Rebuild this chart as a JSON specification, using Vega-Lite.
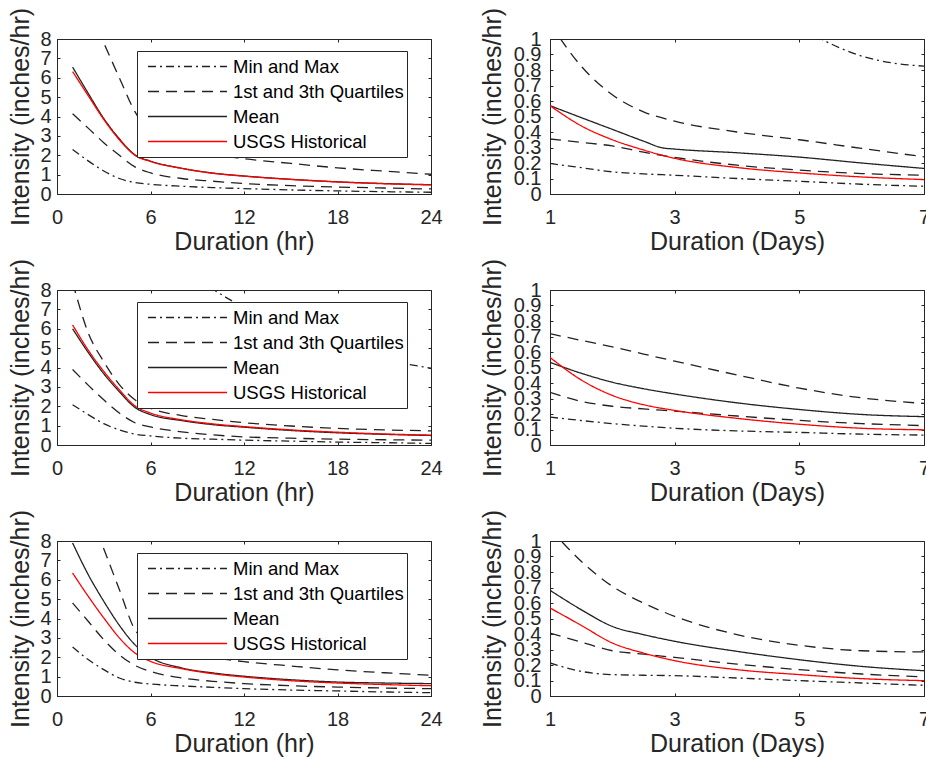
{
"$schema":"https://vega.github.io/schema/vega-lite/v6.json",
"padding":{"left":8,"top":6,"right":0,"bottom":5},
"config":{"font":"Liberation Sans","view":{"stroke":"#262626","strokeWidth":1},
"axis":{"domainColor":"#262626","tickColor":"#262626","labelColor":"#262626","titleColor":"#262626","labelFontSize":20,"titleFontSize":25,"titleFontWeight":"normal","tickSize":-3,"grid":false,"labelOverlap":false,"labelBound":false,"labelFlush":false,"labelFont":"Liberation Sans","titleFont":"Liberation Sans"},
"axisBottom":{"labelPadding":16,"titlePadding":2},
"axisLeft":{"labelPadding":9,"titlePadding":6}},
"data":{"values":[
{"p":"TL","s":"Min","g":"Min and Max","x":1,"y":2.3},{"p":"TL","s":"Min","g":"Min and Max","x":2,"y":1.71},{"p":"TL","s":"Min","g":"Min and Max","x":3,"y":1.19},{"p":"TL","s":"Min","g":"Min and Max","x":4,"y":0.8},{"p":"TL","s":"Min","g":"Min and Max","x":5,"y":0.59},{"p":"TL","s":"Min","g":"Min and Max","x":6,"y":0.5},{"p":"TL","s":"Min","g":"Min and Max","x":8,"y":0.4},{"p":"TL","s":"Min","g":"Min and Max","x":10,"y":0.33},{"p":"TL","s":"Min","g":"Min and Max","x":12,"y":0.28},{"p":"TL","s":"Min","g":"Min and Max","x":15,"y":0.21},{"p":"TL","s":"Min","g":"Min and Max","x":18,"y":0.16},{"p":"TL","s":"Min","g":"Min and Max","x":21,"y":0.12},{"p":"TL","s":"Min","g":"Min and Max","x":24,"y":0.09},
{"p":"TL","s":"Q1","g":"1st and 3th Quartiles","x":1,"y":4.14},{"p":"TL","s":"Q1","g":"1st and 3th Quartiles","x":2,"y":3.4},{"p":"TL","s":"Q1","g":"1st and 3th Quartiles","x":3,"y":2.65},{"p":"TL","s":"Q1","g":"1st and 3th Quartiles","x":4,"y":2.0},{"p":"TL","s":"Q1","g":"1st and 3th Quartiles","x":5,"y":1.4},{"p":"TL","s":"Q1","g":"1st and 3th Quartiles","x":6,"y":1.09},{"p":"TL","s":"Q1","g":"1st and 3th Quartiles","x":8,"y":0.8},{"p":"TL","s":"Q1","g":"1st and 3th Quartiles","x":10,"y":0.66},{"p":"TL","s":"Q1","g":"1st and 3th Quartiles","x":12,"y":0.54},{"p":"TL","s":"Q1","g":"1st and 3th Quartiles","x":15,"y":0.43},{"p":"TL","s":"Q1","g":"1st and 3th Quartiles","x":18,"y":0.36},{"p":"TL","s":"Q1","g":"1st and 3th Quartiles","x":21,"y":0.31},{"p":"TL","s":"Q1","g":"1st and 3th Quartiles","x":24,"y":0.26},
{"p":"TL","s":"Q3","g":"1st and 3th Quartiles","x":1,"y":12},{"p":"TL","s":"Q3","g":"1st and 3th Quartiles","x":2,"y":9.6},{"p":"TL","s":"Q3","g":"1st and 3th Quartiles","x":3,"y":7.8},{"p":"TL","s":"Q3","g":"1st and 3th Quartiles","x":4,"y":6.0},{"p":"TL","s":"Q3","g":"1st and 3th Quartiles","x":5,"y":4.25},{"p":"TL","s":"Q3","g":"1st and 3th Quartiles","x":6,"y":3.2},{"p":"TL","s":"Q3","g":"1st and 3th Quartiles","x":8,"y":2.5},{"p":"TL","s":"Q3","g":"1st and 3th Quartiles","x":10,"y":2.05},{"p":"TL","s":"Q3","g":"1st and 3th Quartiles","x":12,"y":1.82},{"p":"TL","s":"Q3","g":"1st and 3th Quartiles","x":15,"y":1.58},{"p":"TL","s":"Q3","g":"1st and 3th Quartiles","x":18,"y":1.35},{"p":"TL","s":"Q3","g":"1st and 3th Quartiles","x":21,"y":1.18},{"p":"TL","s":"Q3","g":"1st and 3th Quartiles","x":24,"y":1.02},
{"p":"TL","s":"Mean","g":"Mean","x":1,"y":6.55},{"p":"TL","s":"Mean","g":"Mean","x":2,"y":5.2},{"p":"TL","s":"Mean","g":"Mean","x":3,"y":3.9},{"p":"TL","s":"Mean","g":"Mean","x":4,"y":2.85},{"p":"TL","s":"Mean","g":"Mean","x":5,"y":2.02},{"p":"TL","s":"Mean","g":"Mean","x":6,"y":1.7},{"p":"TL","s":"Mean","g":"Mean","x":8,"y":1.33},{"p":"TL","s":"Mean","g":"Mean","x":10,"y":1.08},{"p":"TL","s":"Mean","g":"Mean","x":12,"y":0.93},{"p":"TL","s":"Mean","g":"Mean","x":15,"y":0.76},{"p":"TL","s":"Mean","g":"Mean","x":18,"y":0.63},{"p":"TL","s":"Mean","g":"Mean","x":21,"y":0.54},{"p":"TL","s":"Mean","g":"Mean","x":24,"y":0.48},
{"p":"TL","s":"USGS","g":"USGS Historical","x":1,"y":6.32},{"p":"TL","s":"USGS","g":"USGS Historical","x":2,"y":5.08},{"p":"TL","s":"USGS","g":"USGS Historical","x":3,"y":3.85},{"p":"TL","s":"USGS","g":"USGS Historical","x":4,"y":2.8},{"p":"TL","s":"USGS","g":"USGS Historical","x":5,"y":2.0},{"p":"TL","s":"USGS","g":"USGS Historical","x":6,"y":1.68},{"p":"TL","s":"USGS","g":"USGS Historical","x":8,"y":1.32},{"p":"TL","s":"USGS","g":"USGS Historical","x":10,"y":1.07},{"p":"TL","s":"USGS","g":"USGS Historical","x":12,"y":0.92},{"p":"TL","s":"USGS","g":"USGS Historical","x":15,"y":0.75},{"p":"TL","s":"USGS","g":"USGS Historical","x":18,"y":0.62},{"p":"TL","s":"USGS","g":"USGS Historical","x":21,"y":0.53},{"p":"TL","s":"USGS","g":"USGS Historical","x":24,"y":0.47},

{"p":"TR","s":"Min","g":"Min and Max","x":1,"y":0.197},{"p":"TR","s":"Min","g":"Min and Max","x":1.5,"y":0.17},{"p":"TR","s":"Min","g":"Min and Max","x":2,"y":0.143},{"p":"TR","s":"Min","g":"Min and Max","x":2.5,"y":0.13},{"p":"TR","s":"Min","g":"Min and Max","x":3,"y":0.121},{"p":"TR","s":"Min","g":"Min and Max","x":4,"y":0.1},{"p":"TR","s":"Min","g":"Min and Max","x":5,"y":0.082},{"p":"TR","s":"Min","g":"Min and Max","x":6,"y":0.063},{"p":"TR","s":"Min","g":"Min and Max","x":7,"y":0.05},
{"p":"TR","s":"Max","g":"Min and Max","x":4,"y":1.3},{"p":"TR","s":"Max","g":"Min and Max","x":5,"y":1.08},{"p":"TR","s":"Max","g":"Min and Max","x":5.5,"y":0.97},{"p":"TR","s":"Max","g":"Min and Max","x":6,"y":0.89},{"p":"TR","s":"Max","g":"Min and Max","x":6.5,"y":0.845},{"p":"TR","s":"Max","g":"Min and Max","x":7,"y":0.825},
{"p":"TR","s":"Q1","g":"1st and 3th Quartiles","x":1,"y":0.355},{"p":"TR","s":"Q1","g":"1st and 3th Quartiles","x":1.5,"y":0.333},{"p":"TR","s":"Q1","g":"1st and 3th Quartiles","x":2,"y":0.31},{"p":"TR","s":"Q1","g":"1st and 3th Quartiles","x":2.5,"y":0.27},{"p":"TR","s":"Q1","g":"1st and 3th Quartiles","x":3,"y":0.236},{"p":"TR","s":"Q1","g":"1st and 3th Quartiles","x":4,"y":0.186},{"p":"TR","s":"Q1","g":"1st and 3th Quartiles","x":5,"y":0.154},{"p":"TR","s":"Q1","g":"1st and 3th Quartiles","x":6,"y":0.132},{"p":"TR","s":"Q1","g":"1st and 3th Quartiles","x":7,"y":0.121},
{"p":"TR","s":"Q3","g":"1st and 3th Quartiles","x":1,"y":1.1},{"p":"TR","s":"Q3","g":"1st and 3th Quartiles","x":1.5,"y":0.825},{"p":"TR","s":"Q3","g":"1st and 3th Quartiles","x":2,"y":0.64},{"p":"TR","s":"Q3","g":"1st and 3th Quartiles","x":2.5,"y":0.53},{"p":"TR","s":"Q3","g":"1st and 3th Quartiles","x":3,"y":0.47},{"p":"TR","s":"Q3","g":"1st and 3th Quartiles","x":4,"y":0.4},{"p":"TR","s":"Q3","g":"1st and 3th Quartiles","x":5,"y":0.35},{"p":"TR","s":"Q3","g":"1st and 3th Quartiles","x":6,"y":0.294},{"p":"TR","s":"Q3","g":"1st and 3th Quartiles","x":7,"y":0.24},
{"p":"TR","s":"Mean","g":"Mean","x":1,"y":0.57},{"p":"TR","s":"Mean","g":"Mean","x":1.5,"y":0.493},{"p":"TR","s":"Mean","g":"Mean","x":2,"y":0.417},{"p":"TR","s":"Mean","g":"Mean","x":2.5,"y":0.341},{"p":"TR","s":"Mean","g":"Mean","x":2.8,"y":0.298},{"p":"TR","s":"Mean","g":"Mean","x":3,"y":0.29},{"p":"TR","s":"Mean","g":"Mean","x":4,"y":0.266},{"p":"TR","s":"Mean","g":"Mean","x":5,"y":0.238},{"p":"TR","s":"Mean","g":"Mean","x":6,"y":0.2},{"p":"TR","s":"Mean","g":"Mean","x":7,"y":0.165},
{"p":"TR","s":"USGS","g":"USGS Historical","x":1,"y":0.57},{"p":"TR","s":"USGS","g":"USGS Historical","x":1.5,"y":0.44},{"p":"TR","s":"USGS","g":"USGS Historical","x":2,"y":0.35},{"p":"TR","s":"USGS","g":"USGS Historical","x":2.5,"y":0.284},{"p":"TR","s":"USGS","g":"USGS Historical","x":3,"y":0.23},{"p":"TR","s":"USGS","g":"USGS Historical","x":4,"y":0.171},{"p":"TR","s":"USGS","g":"USGS Historical","x":5,"y":0.136},{"p":"TR","s":"USGS","g":"USGS Historical","x":6,"y":0.11},{"p":"TR","s":"USGS","g":"USGS Historical","x":7,"y":0.093},

{"p":"ML","s":"Min","g":"Min and Max","x":1,"y":2.08},{"p":"ML","s":"Min","g":"Min and Max","x":2,"y":1.57},{"p":"ML","s":"Min","g":"Min and Max","x":3,"y":1.1},{"p":"ML","s":"Min","g":"Min and Max","x":4,"y":0.78},{"p":"ML","s":"Min","g":"Min and Max","x":5,"y":0.56},{"p":"ML","s":"Min","g":"Min and Max","x":6,"y":0.47},{"p":"ML","s":"Min","g":"Min and Max","x":8,"y":0.35},{"p":"ML","s":"Min","g":"Min and Max","x":10,"y":0.3},{"p":"ML","s":"Min","g":"Min and Max","x":12,"y":0.25},{"p":"ML","s":"Min","g":"Min and Max","x":15,"y":0.2},{"p":"ML","s":"Min","g":"Min and Max","x":18,"y":0.15},{"p":"ML","s":"Min","g":"Min and Max","x":21,"y":0.12},{"p":"ML","s":"Min","g":"Min and Max","x":24,"y":0.08},
{"p":"ML","s":"Max","g":"Min and Max","x":8,"y":9.3},{"p":"ML","s":"Max","g":"Min and Max","x":10,"y":8.05},{"p":"ML","s":"Max","g":"Min and Max","x":12,"y":7.1},{"p":"ML","s":"Max","g":"Min and Max","x":15,"y":5.9},{"p":"ML","s":"Max","g":"Min and Max","x":18,"y":5.0},{"p":"ML","s":"Max","g":"Min and Max","x":21,"y":4.4},{"p":"ML","s":"Max","g":"Min and Max","x":24,"y":3.97},
{"p":"ML","s":"Q1","g":"1st and 3th Quartiles","x":1,"y":3.9},{"p":"ML","s":"Q1","g":"1st and 3th Quartiles","x":2,"y":3.09},{"p":"ML","s":"Q1","g":"1st and 3th Quartiles","x":3,"y":2.33},{"p":"ML","s":"Q1","g":"1st and 3th Quartiles","x":4,"y":1.65},{"p":"ML","s":"Q1","g":"1st and 3th Quartiles","x":5,"y":1.15},{"p":"ML","s":"Q1","g":"1st and 3th Quartiles","x":6,"y":0.93},{"p":"ML","s":"Q1","g":"1st and 3th Quartiles","x":8,"y":0.68},{"p":"ML","s":"Q1","g":"1st and 3th Quartiles","x":10,"y":0.52},{"p":"ML","s":"Q1","g":"1st and 3th Quartiles","x":12,"y":0.42},{"p":"ML","s":"Q1","g":"1st and 3th Quartiles","x":15,"y":0.35},{"p":"ML","s":"Q1","g":"1st and 3th Quartiles","x":18,"y":0.3},{"p":"ML","s":"Q1","g":"1st and 3th Quartiles","x":21,"y":0.27},{"p":"ML","s":"Q1","g":"1st and 3th Quartiles","x":24,"y":0.25},
{"p":"ML","s":"Q3","g":"1st and 3th Quartiles","x":1,"y":8.4},{"p":"ML","s":"Q3","g":"1st and 3th Quartiles","x":2,"y":5.8},{"p":"ML","s":"Q3","g":"1st and 3th Quartiles","x":3,"y":4.3},{"p":"ML","s":"Q3","g":"1st and 3th Quartiles","x":4,"y":3.12},{"p":"ML","s":"Q3","g":"1st and 3th Quartiles","x":5,"y":2.33},{"p":"ML","s":"Q3","g":"1st and 3th Quartiles","x":6,"y":1.9},{"p":"ML","s":"Q3","g":"1st and 3th Quartiles","x":8,"y":1.52},{"p":"ML","s":"Q3","g":"1st and 3th Quartiles","x":10,"y":1.32},{"p":"ML","s":"Q3","g":"1st and 3th Quartiles","x":12,"y":1.15},{"p":"ML","s":"Q3","g":"1st and 3th Quartiles","x":15,"y":0.98},{"p":"ML","s":"Q3","g":"1st and 3th Quartiles","x":18,"y":0.86},{"p":"ML","s":"Q3","g":"1st and 3th Quartiles","x":21,"y":0.78},{"p":"ML","s":"Q3","g":"1st and 3th Quartiles","x":24,"y":0.73},
{"p":"ML","s":"Mean","g":"Mean","x":1,"y":6.0},{"p":"ML","s":"Mean","g":"Mean","x":2,"y":4.78},{"p":"ML","s":"Mean","g":"Mean","x":3,"y":3.68},{"p":"ML","s":"Mean","g":"Mean","x":4,"y":2.75},{"p":"ML","s":"Mean","g":"Mean","x":5,"y":1.94},{"p":"ML","s":"Mean","g":"Mean","x":6,"y":1.57},{"p":"ML","s":"Mean","g":"Mean","x":8,"y":1.26},{"p":"ML","s":"Mean","g":"Mean","x":10,"y":1.05},{"p":"ML","s":"Mean","g":"Mean","x":12,"y":0.92},{"p":"ML","s":"Mean","g":"Mean","x":15,"y":0.75},{"p":"ML","s":"Mean","g":"Mean","x":18,"y":0.63},{"p":"ML","s":"Mean","g":"Mean","x":21,"y":0.55},{"p":"ML","s":"Mean","g":"Mean","x":24,"y":0.49},
{"p":"ML","s":"USGS","g":"USGS Historical","x":1,"y":6.2},{"p":"ML","s":"USGS","g":"USGS Historical","x":2,"y":4.9},{"p":"ML","s":"USGS","g":"USGS Historical","x":3,"y":3.8},{"p":"ML","s":"USGS","g":"USGS Historical","x":4,"y":2.85},{"p":"ML","s":"USGS","g":"USGS Historical","x":5,"y":2.02},{"p":"ML","s":"USGS","g":"USGS Historical","x":6,"y":1.65},{"p":"ML","s":"USGS","g":"USGS Historical","x":8,"y":1.3},{"p":"ML","s":"USGS","g":"USGS Historical","x":10,"y":1.09},{"p":"ML","s":"USGS","g":"USGS Historical","x":12,"y":0.95},{"p":"ML","s":"USGS","g":"USGS Historical","x":15,"y":0.78},{"p":"ML","s":"USGS","g":"USGS Historical","x":18,"y":0.66},{"p":"ML","s":"USGS","g":"USGS Historical","x":21,"y":0.57},{"p":"ML","s":"USGS","g":"USGS Historical","x":24,"y":0.51},

{"p":"MR","s":"Min","g":"Min and Max","x":1,"y":0.18},{"p":"MR","s":"Min","g":"Min and Max","x":1.5,"y":0.158},{"p":"MR","s":"Min","g":"Min and Max","x":2,"y":0.138},{"p":"MR","s":"Min","g":"Min and Max","x":2.5,"y":0.122},{"p":"MR","s":"Min","g":"Min and Max","x":3,"y":0.108},{"p":"MR","s":"Min","g":"Min and Max","x":4,"y":0.091},{"p":"MR","s":"Min","g":"Min and Max","x":5,"y":0.081},{"p":"MR","s":"Min","g":"Min and Max","x":6,"y":0.07},{"p":"MR","s":"Min","g":"Min and Max","x":7,"y":0.064},
{"p":"MR","s":"Q1","g":"1st and 3th Quartiles","x":1,"y":0.34},{"p":"MR","s":"Q1","g":"1st and 3th Quartiles","x":1.5,"y":0.282},{"p":"MR","s":"Q1","g":"1st and 3th Quartiles","x":2,"y":0.25},{"p":"MR","s":"Q1","g":"1st and 3th Quartiles","x":2.5,"y":0.233},{"p":"MR","s":"Q1","g":"1st and 3th Quartiles","x":3,"y":0.219},{"p":"MR","s":"Q1","g":"1st and 3th Quartiles","x":4,"y":0.187},{"p":"MR","s":"Q1","g":"1st and 3th Quartiles","x":5,"y":0.159},{"p":"MR","s":"Q1","g":"1st and 3th Quartiles","x":6,"y":0.138},{"p":"MR","s":"Q1","g":"1st and 3th Quartiles","x":7,"y":0.125},
{"p":"MR","s":"Q3","g":"1st and 3th Quartiles","x":1,"y":0.718},{"p":"MR","s":"Q3","g":"1st and 3th Quartiles","x":1.5,"y":0.675},{"p":"MR","s":"Q3","g":"1st and 3th Quartiles","x":2,"y":0.633},{"p":"MR","s":"Q3","g":"1st and 3th Quartiles","x":2.5,"y":0.587},{"p":"MR","s":"Q3","g":"1st and 3th Quartiles","x":3,"y":0.541},{"p":"MR","s":"Q3","g":"1st and 3th Quartiles","x":4,"y":0.452},{"p":"MR","s":"Q3","g":"1st and 3th Quartiles","x":5,"y":0.367},{"p":"MR","s":"Q3","g":"1st and 3th Quartiles","x":6,"y":0.304},{"p":"MR","s":"Q3","g":"1st and 3th Quartiles","x":7,"y":0.268},
{"p":"MR","s":"Mean","g":"Mean","x":1,"y":0.533},{"p":"MR","s":"Mean","g":"Mean","x":1.5,"y":0.463},{"p":"MR","s":"Mean","g":"Mean","x":2,"y":0.405},{"p":"MR","s":"Mean","g":"Mean","x":2.5,"y":0.363},{"p":"MR","s":"Mean","g":"Mean","x":3,"y":0.329},{"p":"MR","s":"Mean","g":"Mean","x":4,"y":0.272},{"p":"MR","s":"Mean","g":"Mean","x":5,"y":0.229},{"p":"MR","s":"Mean","g":"Mean","x":6,"y":0.197},{"p":"MR","s":"Mean","g":"Mean","x":7,"y":0.183},
{"p":"MR","s":"USGS","g":"USGS Historical","x":1,"y":0.565},{"p":"MR","s":"USGS","g":"USGS Historical","x":1.5,"y":0.42},{"p":"MR","s":"USGS","g":"USGS Historical","x":2,"y":0.32},{"p":"MR","s":"USGS","g":"USGS Historical","x":2.5,"y":0.26},{"p":"MR","s":"USGS","g":"USGS Historical","x":3,"y":0.223},{"p":"MR","s":"USGS","g":"USGS Historical","x":4,"y":0.172},{"p":"MR","s":"USGS","g":"USGS Historical","x":5,"y":0.134},{"p":"MR","s":"USGS","g":"USGS Historical","x":6,"y":0.108},{"p":"MR","s":"USGS","g":"USGS Historical","x":7,"y":0.098},

{"p":"BL","s":"Min","g":"Min and Max","x":1,"y":2.53},{"p":"BL","s":"Min","g":"Min and Max","x":2,"y":1.88},{"p":"BL","s":"Min","g":"Min and Max","x":3,"y":1.36},{"p":"BL","s":"Min","g":"Min and Max","x":4,"y":0.93},{"p":"BL","s":"Min","g":"Min and Max","x":5,"y":0.71},{"p":"BL","s":"Min","g":"Min and Max","x":6,"y":0.62},{"p":"BL","s":"Min","g":"Min and Max","x":8,"y":0.52},{"p":"BL","s":"Min","g":"Min and Max","x":10,"y":0.45},{"p":"BL","s":"Min","g":"Min and Max","x":12,"y":0.38},{"p":"BL","s":"Min","g":"Min and Max","x":15,"y":0.31},{"p":"BL","s":"Min","g":"Min and Max","x":18,"y":0.26},{"p":"BL","s":"Min","g":"Min and Max","x":21,"y":0.21},{"p":"BL","s":"Min","g":"Min and Max","x":24,"y":0.17},
{"p":"BL","s":"Q1","g":"1st and 3th Quartiles","x":1,"y":4.8},{"p":"BL","s":"Q1","g":"1st and 3th Quartiles","x":2,"y":3.86},{"p":"BL","s":"Q1","g":"1st and 3th Quartiles","x":3,"y":2.91},{"p":"BL","s":"Q1","g":"1st and 3th Quartiles","x":4,"y":2.13},{"p":"BL","s":"Q1","g":"1st and 3th Quartiles","x":5,"y":1.58},{"p":"BL","s":"Q1","g":"1st and 3th Quartiles","x":6,"y":1.27},{"p":"BL","s":"Q1","g":"1st and 3th Quartiles","x":8,"y":0.93},{"p":"BL","s":"Q1","g":"1st and 3th Quartiles","x":10,"y":0.76},{"p":"BL","s":"Q1","g":"1st and 3th Quartiles","x":12,"y":0.64},{"p":"BL","s":"Q1","g":"1st and 3th Quartiles","x":15,"y":0.53},{"p":"BL","s":"Q1","g":"1st and 3th Quartiles","x":18,"y":0.46},{"p":"BL","s":"Q1","g":"1st and 3th Quartiles","x":21,"y":0.41},{"p":"BL","s":"Q1","g":"1st and 3th Quartiles","x":24,"y":0.38},
{"p":"BL","s":"Q3","g":"1st and 3th Quartiles","x":1,"y":12},{"p":"BL","s":"Q3","g":"1st and 3th Quartiles","x":2,"y":9.7},{"p":"BL","s":"Q3","g":"1st and 3th Quartiles","x":3,"y":7.6},{"p":"BL","s":"Q3","g":"1st and 3th Quartiles","x":4,"y":5.5},{"p":"BL","s":"Q3","g":"1st and 3th Quartiles","x":5,"y":3.42},{"p":"BL","s":"Q3","g":"1st and 3th Quartiles","x":6,"y":2.75},{"p":"BL","s":"Q3","g":"1st and 3th Quartiles","x":8,"y":2.25},{"p":"BL","s":"Q3","g":"1st and 3th Quartiles","x":10,"y":1.98},{"p":"BL","s":"Q3","g":"1st and 3th Quartiles","x":12,"y":1.77},{"p":"BL","s":"Q3","g":"1st and 3th Quartiles","x":15,"y":1.55},{"p":"BL","s":"Q3","g":"1st and 3th Quartiles","x":18,"y":1.35},{"p":"BL","s":"Q3","g":"1st and 3th Quartiles","x":21,"y":1.2},{"p":"BL","s":"Q3","g":"1st and 3th Quartiles","x":24,"y":1.07},
{"p":"BL","s":"Mean","g":"Mean","x":1,"y":7.9},{"p":"BL","s":"Mean","g":"Mean","x":2,"y":6.27},{"p":"BL","s":"Mean","g":"Mean","x":3,"y":4.89},{"p":"BL","s":"Mean","g":"Mean","x":4,"y":3.65},{"p":"BL","s":"Mean","g":"Mean","x":5,"y":2.65},{"p":"BL","s":"Mean","g":"Mean","x":6,"y":2.0},{"p":"BL","s":"Mean","g":"Mean","x":8,"y":1.45},{"p":"BL","s":"Mean","g":"Mean","x":10,"y":1.19},{"p":"BL","s":"Mean","g":"Mean","x":12,"y":1.02},{"p":"BL","s":"Mean","g":"Mean","x":15,"y":0.84},{"p":"BL","s":"Mean","g":"Mean","x":18,"y":0.72},{"p":"BL","s":"Mean","g":"Mean","x":21,"y":0.67},{"p":"BL","s":"Mean","g":"Mean","x":24,"y":0.64},
{"p":"BL","s":"USGS","g":"USGS Historical","x":1,"y":6.35},{"p":"BL","s":"USGS","g":"USGS Historical","x":2,"y":5.15},{"p":"BL","s":"USGS","g":"USGS Historical","x":3,"y":4.03},{"p":"BL","s":"USGS","g":"USGS Historical","x":4,"y":3.0},{"p":"BL","s":"USGS","g":"USGS Historical","x":5,"y":2.22},{"p":"BL","s":"USGS","g":"USGS Historical","x":6,"y":1.79},{"p":"BL","s":"USGS","g":"USGS Historical","x":8,"y":1.41},{"p":"BL","s":"USGS","g":"USGS Historical","x":10,"y":1.15},{"p":"BL","s":"USGS","g":"USGS Historical","x":12,"y":0.98},{"p":"BL","s":"USGS","g":"USGS Historical","x":15,"y":0.79},{"p":"BL","s":"USGS","g":"USGS Historical","x":18,"y":0.67},{"p":"BL","s":"USGS","g":"USGS Historical","x":21,"y":0.59},{"p":"BL","s":"USGS","g":"USGS Historical","x":24,"y":0.53},

{"p":"BR","s":"Min","g":"Min and Max","x":1,"y":0.213},{"p":"BR","s":"Min","g":"Min and Max","x":1.5,"y":0.159},{"p":"BR","s":"Min","g":"Min and Max","x":2,"y":0.138},{"p":"BR","s":"Min","g":"Min and Max","x":2.5,"y":0.134},{"p":"BR","s":"Min","g":"Min and Max","x":3,"y":0.131},{"p":"BR","s":"Min","g":"Min and Max","x":4,"y":0.116},{"p":"BR","s":"Min","g":"Min and Max","x":5,"y":0.099},{"p":"BR","s":"Min","g":"Min and Max","x":6,"y":0.084},{"p":"BR","s":"Min","g":"Min and Max","x":7,"y":0.069},
{"p":"BR","s":"Q1","g":"1st and 3th Quartiles","x":1,"y":0.406},{"p":"BR","s":"Q1","g":"1st and 3th Quartiles","x":1.5,"y":0.348},{"p":"BR","s":"Q1","g":"1st and 3th Quartiles","x":2,"y":0.292},{"p":"BR","s":"Q1","g":"1st and 3th Quartiles","x":2.5,"y":0.27},{"p":"BR","s":"Q1","g":"1st and 3th Quartiles","x":3,"y":0.249},{"p":"BR","s":"Q1","g":"1st and 3th Quartiles","x":4,"y":0.206},{"p":"BR","s":"Q1","g":"1st and 3th Quartiles","x":5,"y":0.17},{"p":"BR","s":"Q1","g":"1st and 3th Quartiles","x":6,"y":0.142},{"p":"BR","s":"Q1","g":"1st and 3th Quartiles","x":7,"y":0.123},
{"p":"BR","s":"Q3","g":"1st and 3th Quartiles","x":1,"y":1.08},{"p":"BR","s":"Q3","g":"1st and 3th Quartiles","x":1.5,"y":0.869},{"p":"BR","s":"Q3","g":"1st and 3th Quartiles","x":2,"y":0.708},{"p":"BR","s":"Q3","g":"1st and 3th Quartiles","x":2.5,"y":0.6},{"p":"BR","s":"Q3","g":"1st and 3th Quartiles","x":3,"y":0.514},{"p":"BR","s":"Q3","g":"1st and 3th Quartiles","x":4,"y":0.396},{"p":"BR","s":"Q3","g":"1st and 3th Quartiles","x":5,"y":0.327},{"p":"BR","s":"Q3","g":"1st and 3th Quartiles","x":6,"y":0.292},{"p":"BR","s":"Q3","g":"1st and 3th Quartiles","x":7,"y":0.284},
{"p":"BR","s":"Mean","g":"Mean","x":1,"y":0.682},{"p":"BR","s":"Mean","g":"Mean","x":1.5,"y":0.557},{"p":"BR","s":"Mean","g":"Mean","x":2,"y":0.449},{"p":"BR","s":"Mean","g":"Mean","x":2.5,"y":0.396},{"p":"BR","s":"Mean","g":"Mean","x":3,"y":0.353},{"p":"BR","s":"Mean","g":"Mean","x":4,"y":0.288},{"p":"BR","s":"Mean","g":"Mean","x":5,"y":0.234},{"p":"BR","s":"Mean","g":"Mean","x":6,"y":0.191},{"p":"BR","s":"Mean","g":"Mean","x":7,"y":0.163},
{"p":"BR","s":"USGS","g":"USGS Historical","x":1,"y":0.568},{"p":"BR","s":"USGS","g":"USGS Historical","x":1.5,"y":0.456},{"p":"BR","s":"USGS","g":"USGS Historical","x":2,"y":0.342},{"p":"BR","s":"USGS","g":"USGS Historical","x":2.5,"y":0.277},{"p":"BR","s":"USGS","g":"USGS Historical","x":3,"y":0.228},{"p":"BR","s":"USGS","g":"USGS Historical","x":4,"y":0.17},{"p":"BR","s":"USGS","g":"USGS Historical","x":5,"y":0.138},{"p":"BR","s":"USGS","g":"USGS Historical","x":6,"y":0.112},{"p":"BR","s":"USGS","g":"USGS Historical","x":7,"y":0.099}
]},
"columns":2,
"spacing":{"row":96,"column":119},
"bounds":"flush",
"resolve":{"scale":{"color":"independent","strokeDash":"independent"},"legend":{"color":"independent","strokeDash":"independent"}},
"concat":[
{"width":374,"height":155,"transform":[{"filter":"datum.p === 'TL'"}],
 "layer":[
  {"mark":{"type":"line","clip":true,"strokeWidth":1.3,"interpolate":"monotone"},
   "encoding":{
    "x":{"field":"x","type":"quantitative","scale":{"domain":[0,24],"nice":false},"axis":{"values":[0,6,12,18,24],"format":"d","title":"Duration (hr)"}},
    "y":{"field":"y","type":"quantitative","scale":{"domain":[0,8],"nice":false},"axis":{"values":[0,1,2,3,4,5,6,7,8],"format":"d","title":"Intensity (inches/hr)"}},
    "color":{"field":"g","type":"nominal","scale":{"domain":["Min and Max","1st and 3th Quartiles","Mean","USGS Historical"],"range":["#222222","#222222","#222222","#ff0000"]},"legend":{"title":null,"orient":"none","legendX":80,"legendY":12,"direction":"vertical","symbolType":"stroke","symbolSize":6241,"symbolStrokeWidth":1.3,"clipHeight":25,"rowPadding":0,"padding":3,"symbolOffset":7,"labelOffset":5,"labelFontSize":18.5,"labelColor":"#000000","labelLimit":400,"fillColor":"white","strokeColor":"#262626"}},
    "strokeDash":{"field":"g","type":"nominal","scale":{"domain":["Min and Max","1st and 3th Quartiles","Mean","USGS Historical"],"range":[[8,4,2,4],[11,7],[1,0],[1,0]]},"legend":{"title":null,"orient":"none","legendX":80,"legendY":12,"direction":"vertical","symbolType":"stroke","symbolSize":6241,"symbolStrokeWidth":1.3,"clipHeight":25,"rowPadding":0,"padding":3,"symbolOffset":7,"labelOffset":5,"labelFontSize":18.5,"labelColor":"#000000","labelLimit":400,"fillColor":"white","strokeColor":"#262626"}},
    "detail":{"field":"s"}}},
  {"mark":{"type":"point","opacity":0,"clip":true},
   "encoding":{
    "x":{"field":"x","type":"quantitative","scale":{"domain":[0,24],"nice":false},"axis":{"orient":"top","values":[0,6,12,18,24],"labels":false,"domain":false,"title":null}},
    "y":{"field":"y","type":"quantitative","scale":{"domain":[0,8],"nice":false},"axis":{"orient":"right","values":[0,1,2,3,4,5,6,7,8],"labels":false,"domain":false,"title":null}}}}
 ],
 "resolve":{"axis":{"x":"independent","y":"independent"}}},
{"width":374,"height":155,"transform":[{"filter":"datum.p === 'TR'"}],
 "layer":[
  {"mark":{"type":"line","clip":true,"strokeWidth":1.3,"interpolate":"monotone"},
   "encoding":{
    "x":{"field":"x","type":"quantitative","scale":{"domain":[1,7],"nice":false},"axis":{"values":[1,3,5,7],"format":"d","title":"Duration (Days)"}},
    "y":{"field":"y","type":"quantitative","scale":{"domain":[0,1],"nice":false},"axis":{"values":[0,0.1,0.2,0.3,0.4,0.5,0.6,0.7,0.8,0.9,1],"format":".1~f","title":"Intensity (inches/hr)","labelPadding":12,"titlePadding":8}},
    "color":{"field":"g","type":"nominal","scale":{"domain":["Min and Max","1st and 3th Quartiles","Mean","USGS Historical"],"range":["#222222","#222222","#222222","#ff0000"]},"legend":null},
    "strokeDash":{"field":"g","type":"nominal","scale":{"domain":["Min and Max","1st and 3th Quartiles","Mean","USGS Historical"],"range":[[8,4,2,4],[11,7],[1,0],[1,0]]},"legend":null},
    "detail":{"field":"s"}}},
  {"mark":{"type":"point","opacity":0,"clip":true},
   "encoding":{
    "x":{"field":"x","type":"quantitative","scale":{"domain":[1,7],"nice":false},"axis":{"orient":"top","values":[1,3,5,7],"labels":false,"domain":false,"title":null}},
    "y":{"field":"y","type":"quantitative","scale":{"domain":[0,1],"nice":false},"axis":{"orient":"right","values":[0,0.1,0.2,0.3,0.4,0.5,0.6,0.7,0.8,0.9,1],"labels":false,"domain":false,"title":null}}}}
 ],
 "resolve":{"axis":{"x":"independent","y":"independent"}}},
{"width":374,"height":155,"transform":[{"filter":"datum.p === 'ML'"}],
 "layer":[
  {"mark":{"type":"line","clip":true,"strokeWidth":1.3,"interpolate":"monotone"},
   "encoding":{
    "x":{"field":"x","type":"quantitative","scale":{"domain":[0,24],"nice":false},"axis":{"values":[0,6,12,18,24],"format":"d","title":"Duration (hr)"}},
    "y":{"field":"y","type":"quantitative","scale":{"domain":[0,8],"nice":false},"axis":{"values":[0,1,2,3,4,5,6,7,8],"format":"d","title":"Intensity (inches/hr)"}},
    "color":{"field":"g","type":"nominal","scale":{"domain":["Min and Max","1st and 3th Quartiles","Mean","USGS Historical"],"range":["#222222","#222222","#222222","#ff0000"]},"legend":{"title":null,"orient":"none","legendX":80,"legendY":12,"direction":"vertical","symbolType":"stroke","symbolSize":6241,"symbolStrokeWidth":1.3,"clipHeight":25,"rowPadding":0,"padding":3,"symbolOffset":7,"labelOffset":5,"labelFontSize":18.5,"labelColor":"#000000","labelLimit":400,"fillColor":"white","strokeColor":"#262626"}},
    "strokeDash":{"field":"g","type":"nominal","scale":{"domain":["Min and Max","1st and 3th Quartiles","Mean","USGS Historical"],"range":[[8,4,2,4],[11,7],[1,0],[1,0]]},"legend":{"title":null,"orient":"none","legendX":80,"legendY":12,"direction":"vertical","symbolType":"stroke","symbolSize":6241,"symbolStrokeWidth":1.3,"clipHeight":25,"rowPadding":0,"padding":3,"symbolOffset":7,"labelOffset":5,"labelFontSize":18.5,"labelColor":"#000000","labelLimit":400,"fillColor":"white","strokeColor":"#262626"}},
    "detail":{"field":"s"}}},
  {"mark":{"type":"point","opacity":0,"clip":true},
   "encoding":{
    "x":{"field":"x","type":"quantitative","scale":{"domain":[0,24],"nice":false},"axis":{"orient":"top","values":[0,6,12,18,24],"labels":false,"domain":false,"title":null}},
    "y":{"field":"y","type":"quantitative","scale":{"domain":[0,8],"nice":false},"axis":{"orient":"right","values":[0,1,2,3,4,5,6,7,8],"labels":false,"domain":false,"title":null}}}}
 ],
 "resolve":{"axis":{"x":"independent","y":"independent"}}},
{"width":374,"height":155,"transform":[{"filter":"datum.p === 'MR'"}],
 "layer":[
  {"mark":{"type":"line","clip":true,"strokeWidth":1.3,"interpolate":"monotone"},
   "encoding":{
    "x":{"field":"x","type":"quantitative","scale":{"domain":[1,7],"nice":false},"axis":{"values":[1,3,5,7],"format":"d","title":"Duration (Days)"}},
    "y":{"field":"y","type":"quantitative","scale":{"domain":[0,1],"nice":false},"axis":{"values":[0,0.1,0.2,0.3,0.4,0.5,0.6,0.7,0.8,0.9,1],"format":".1~f","title":"Intensity (inches/hr)","labelPadding":12,"titlePadding":8}},
    "color":{"field":"g","type":"nominal","scale":{"domain":["Min and Max","1st and 3th Quartiles","Mean","USGS Historical"],"range":["#222222","#222222","#222222","#ff0000"]},"legend":null},
    "strokeDash":{"field":"g","type":"nominal","scale":{"domain":["Min and Max","1st and 3th Quartiles","Mean","USGS Historical"],"range":[[8,4,2,4],[11,7],[1,0],[1,0]]},"legend":null},
    "detail":{"field":"s"}}},
  {"mark":{"type":"point","opacity":0,"clip":true},
   "encoding":{
    "x":{"field":"x","type":"quantitative","scale":{"domain":[1,7],"nice":false},"axis":{"orient":"top","values":[1,3,5,7],"labels":false,"domain":false,"title":null}},
    "y":{"field":"y","type":"quantitative","scale":{"domain":[0,1],"nice":false},"axis":{"orient":"right","values":[0,0.1,0.2,0.3,0.4,0.5,0.6,0.7,0.8,0.9,1],"labels":false,"domain":false,"title":null}}}}
 ],
 "resolve":{"axis":{"x":"independent","y":"independent"}}},
{"width":374,"height":155,"transform":[{"filter":"datum.p === 'BL'"}],
 "layer":[
  {"mark":{"type":"line","clip":true,"strokeWidth":1.3,"interpolate":"monotone"},
   "encoding":{
    "x":{"field":"x","type":"quantitative","scale":{"domain":[0,24],"nice":false},"axis":{"values":[0,6,12,18,24],"format":"d","title":"Duration (hr)"}},
    "y":{"field":"y","type":"quantitative","scale":{"domain":[0,8],"nice":false},"axis":{"values":[0,1,2,3,4,5,6,7,8],"format":"d","title":"Intensity (inches/hr)"}},
    "color":{"field":"g","type":"nominal","scale":{"domain":["Min and Max","1st and 3th Quartiles","Mean","USGS Historical"],"range":["#222222","#222222","#222222","#ff0000"]},"legend":{"title":null,"orient":"none","legendX":80,"legendY":12,"direction":"vertical","symbolType":"stroke","symbolSize":6241,"symbolStrokeWidth":1.3,"clipHeight":25,"rowPadding":0,"padding":3,"symbolOffset":7,"labelOffset":5,"labelFontSize":18.5,"labelColor":"#000000","labelLimit":400,"fillColor":"white","strokeColor":"#262626"}},
    "strokeDash":{"field":"g","type":"nominal","scale":{"domain":["Min and Max","1st and 3th Quartiles","Mean","USGS Historical"],"range":[[8,4,2,4],[11,7],[1,0],[1,0]]},"legend":{"title":null,"orient":"none","legendX":80,"legendY":12,"direction":"vertical","symbolType":"stroke","symbolSize":6241,"symbolStrokeWidth":1.3,"clipHeight":25,"rowPadding":0,"padding":3,"symbolOffset":7,"labelOffset":5,"labelFontSize":18.5,"labelColor":"#000000","labelLimit":400,"fillColor":"white","strokeColor":"#262626"}},
    "detail":{"field":"s"}}},
  {"mark":{"type":"point","opacity":0,"clip":true},
   "encoding":{
    "x":{"field":"x","type":"quantitative","scale":{"domain":[0,24],"nice":false},"axis":{"orient":"top","values":[0,6,12,18,24],"labels":false,"domain":false,"title":null}},
    "y":{"field":"y","type":"quantitative","scale":{"domain":[0,8],"nice":false},"axis":{"orient":"right","values":[0,1,2,3,4,5,6,7,8],"labels":false,"domain":false,"title":null}}}}
 ],
 "resolve":{"axis":{"x":"independent","y":"independent"}}},
{"width":374,"height":155,"transform":[{"filter":"datum.p === 'BR'"}],
 "layer":[
  {"mark":{"type":"line","clip":true,"strokeWidth":1.3,"interpolate":"monotone"},
   "encoding":{
    "x":{"field":"x","type":"quantitative","scale":{"domain":[1,7],"nice":false},"axis":{"values":[1,3,5,7],"format":"d","title":"Duration (Days)"}},
    "y":{"field":"y","type":"quantitative","scale":{"domain":[0,1],"nice":false},"axis":{"values":[0,0.1,0.2,0.3,0.4,0.5,0.6,0.7,0.8,0.9,1],"format":".1~f","title":"Intensity (inches/hr)","labelPadding":12,"titlePadding":8}},
    "color":{"field":"g","type":"nominal","scale":{"domain":["Min and Max","1st and 3th Quartiles","Mean","USGS Historical"],"range":["#222222","#222222","#222222","#ff0000"]},"legend":null},
    "strokeDash":{"field":"g","type":"nominal","scale":{"domain":["Min and Max","1st and 3th Quartiles","Mean","USGS Historical"],"range":[[8,4,2,4],[11,7],[1,0],[1,0]]},"legend":null},
    "detail":{"field":"s"}}},
  {"mark":{"type":"point","opacity":0,"clip":true},
   "encoding":{
    "x":{"field":"x","type":"quantitative","scale":{"domain":[1,7],"nice":false},"axis":{"orient":"top","values":[1,3,5,7],"labels":false,"domain":false,"title":null}},
    "y":{"field":"y","type":"quantitative","scale":{"domain":[0,1],"nice":false},"axis":{"orient":"right","values":[0,0.1,0.2,0.3,0.4,0.5,0.6,0.7,0.8,0.9,1],"labels":false,"domain":false,"title":null}}}}
 ],
 "resolve":{"axis":{"x":"independent","y":"independent"}}}
]
}
